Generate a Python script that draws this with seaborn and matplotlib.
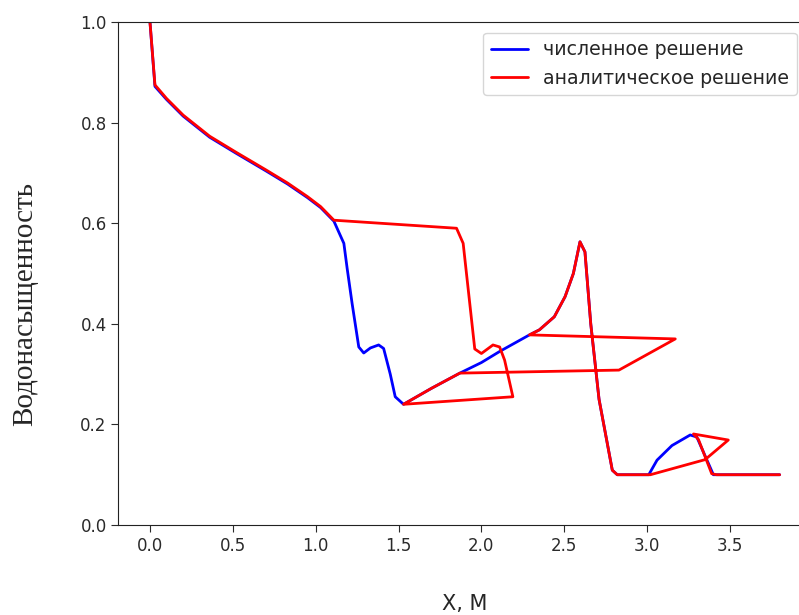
import pandas as pd
import matplotlib
matplotlib.use('Agg')
import matplotlib.pyplot as plt
import seaborn as sns

# Numerical solution (blue)
x_num = [0.0, 0.03, 0.10, 0.20, 0.36, 0.52, 0.70, 0.83, 0.95, 1.03, 1.11,
         1.17, 1.19, 1.22, 1.26, 1.29, 1.33, 1.38, 1.41, 1.45, 1.48, 1.53,
         1.70, 1.87, 2.00, 2.11, 2.29, 2.35, 2.44, 2.505, 2.555, 2.595, 2.625,
         2.66, 2.71, 2.79, 2.82, 3.01, 3.06, 3.15, 3.26, 3.30, 3.36, 3.40,
         3.43, 3.80]
s_num = [1.0, 0.872, 0.846, 0.813, 0.771, 0.739, 0.704, 0.678, 0.651, 0.631, 0.604,
         0.56, 0.51, 0.44, 0.354, 0.342, 0.352, 0.358, 0.351, 0.30, 0.255, 0.240,
         0.272, 0.302, 0.323, 0.345, 0.378, 0.388, 0.414, 0.454, 0.50, 0.563, 0.543,
         0.40, 0.25, 0.109, 0.10, 0.10, 0.129, 0.158, 0.179, 0.175, 0.13, 0.10,
         0.10, 0.10]

# Analytical solution (red), multi-valued
x_an = [0.0, 0.03, 0.10, 0.20, 0.36, 0.52, 0.70, 0.83, 0.95, 1.03, 1.11,
        1.85, 1.89, 1.96, 2.00, 2.07, 2.11, 2.14, 2.19, 1.53, 1.70, 1.87,
        2.83, 3.17, 2.29, 2.35, 2.44, 2.505, 2.555, 2.595, 2.625, 2.66, 2.71,
        2.79, 2.82, 3.02, 3.35, 3.49, 3.28, 3.31, 3.39, 3.42, 3.80]
s_an = [1.0, 0.875, 0.848, 0.815, 0.773, 0.741, 0.706, 0.680, 0.653, 0.633, 0.606,
        0.59, 0.56, 0.35, 0.341, 0.358, 0.354, 0.328, 0.255, 0.240, 0.272, 0.302,
        0.308, 0.370, 0.378, 0.388, 0.414, 0.454, 0.50, 0.563, 0.543, 0.40, 0.25,
        0.109, 0.10, 0.10, 0.13, 0.169, 0.181, 0.17, 0.102, 0.10, 0.10]

lab_num = 'численное решение'
lab_an = 'аналитическое решение'

df = pd.concat([
    pd.DataFrame({'x': x_num, 's': s_num, 'series': lab_num}),
    pd.DataFrame({'x': x_an, 's': s_an, 'series': lab_an}),
], ignore_index=True)

sns.set_style('ticks')
plt.rcParams['font.family'] = ['DejaVu Sans']

fig = plt.figure(figsize=(7.99, 6.15), dpi=100)
ax = fig.add_axes([0.1483, 0.1463, 0.8669, 0.8179])

sns.lineplot(data=df, x='x', y='s', hue='series', sort=False, estimator=None,
             palette={lab_num: 'blue', lab_an: 'red'}, linewidth=2.0, ax=ax)

ax.set_xlim(-0.19, 3.99)
ax.set_ylim(0, 1.0)
ax.set_xticks([0.0, 0.5, 1.0, 1.5, 2.0, 2.5, 3.0, 3.5])
ax.set_yticks([0.0, 0.2, 0.4, 0.6, 0.8, 1.0])
ax.tick_params(labelsize=12, colors='#2a2a2a', length=5)
ax.spines['right'].set_visible(False)
for sp in ax.spines.values():
    sp.set_color('#222222')

ax.set_xlabel('X, M', fontsize=15, labelpad=28)
ax.set_ylabel('Водонасыщенность', fontsize=21, family='Liberation Serif')
ax.yaxis.set_label_coords(-0.116, 0.44)

ax.legend(loc='upper right', bbox_to_anchor=(0.9975, 0.947),
          bbox_transform=fig.transFigure, fontsize=13.6, frameon=True,
          borderaxespad=0)

fig.savefig('out.png', dpi=100)
